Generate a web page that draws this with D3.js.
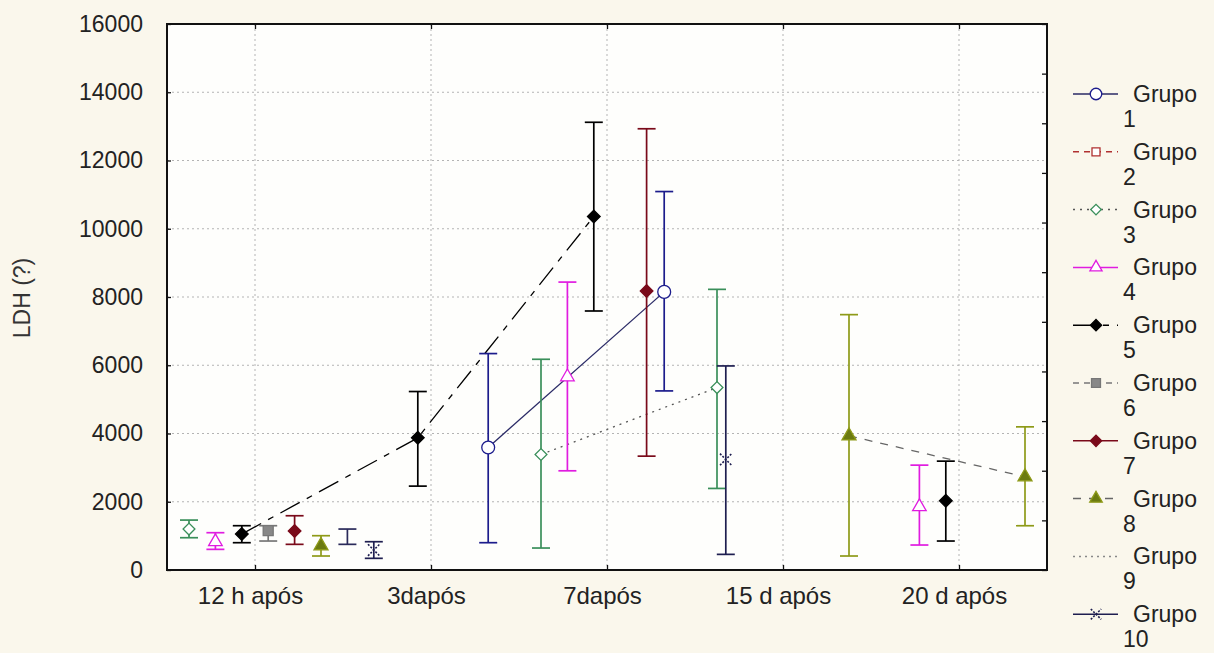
<!DOCTYPE html>
<html>
<head>
<meta charset="utf-8">
<script src="https://cdn.jsdelivr.net/npm/d3@7"></script>
<style>
  body { margin: 0; background: #faf7ec; }
  svg { display: block; font-family: "Liberation Sans", Arial, sans-serif; }
</style>
</head>
<body>
<div id="chart"></div>
<script>
// categories on the x axis
var categories = ["12 h após", "3dapós", "7dapós", "15 d após", "20 d após"];
var groups = ["Grupo 1", "Grupo 2", "Grupo 3", "Grupo 4", "Grupo 5", "Grupo 6", "Grupo 7", "Grupo 8", "Grupo 9", "Grupo 10"];
var legendNumbers = ["1", "2", "3", "4", "5", "6", "7", "8", "9", "10"];
var yTicks = [0, 2000, 4000, 6000, 8000, 10000, 12000, 14000, 16000];

// means per group (null = no value)
var means = [
    [null, null, 3590, 8150, null],
    [null, null, null, null, null],
    [1200, null, 3385, 5346, null],
    [829, null, 5660, null, 1853],
    [1053, 3872, 10360, null, 2029],
    [1151, null, null, null, null],
    [1141, null, 8175, null, null],
    [712, null, null, 3931, 2731],
    [976, null, null, null, null],
    [585, null, 3239, null, null]
];
var lower = [
    [null, null, 800, 5248, null],
    [null, null, null, null, null],
    [946, null, 644, 2390, null],
    [605, null, 2907, null, 732],
    [800, 2458, 7590, null, 849],
    [849, null, null, null, null],
    [752, null, 3336, null, null],
    [410, null, null, 410, 1297],
    [752, null, null, null, null],
    [342, null, 458, null, null]
];
var upper = [
    [null, null, 6342, 11090, null],
    [null, null, null, null, null],
    [1463, null, 6175, 8224, null],
    [1093, null, 8437, null, 3073],
    [1298, 5230, 13120, null, 3190],
    [1298, null, null, null, null],
    [1590, null, 12930, null, null],
    [1005, null, null, 7483, 4195],
    [1200, null, null, null, null],
    [829, null, 5980, null, null]
];

// styles per group ("rot" turns a square into a diamond)
var styles = [
    {color: "#1c1c8c", line: "#2a2a66", dash: null, symbol: d3.symbolCircle, size: 130, fill: "#fff"},
    {color: "#b03030", line: "#b03030", dash: "6,5", symbol: d3.symbolSquare, size: 80, fill: "#fff"},
    {color: "#3a8f5a", line: "#555", dash: "2,5", symbol: d3.symbolSquare, rot: 45, size: 70, fill: "#fff"},
    {color: "#e01ce0", line: "#e01ce0", dash: null, symbol: d3.symbolTriangle, size: 80, fill: "#fff"},
    {color: "#000", line: "#000", dash: "22,8,6,8", symbol: d3.symbolSquare, rot: 45, size: 80, fill: "#000"},
    {color: "#777", line: "#777", dash: "6,5", symbol: d3.symbolSquare, size: 100, fill: "#888"},
    {color: "#7a0a1a", line: "#7a0a1a", dash: null, symbol: d3.symbolSquare, rot: 45, size: 80, fill: "#7a0a1a"},
    {color: "#8e9a18", line: "#666", dash: "8,8", symbol: d3.symbolTriangle, size: 85, fill: "#6b7a10"},
    {color: "#2a2a5a", line: "#888", dash: "2,4", symbol: null, size: 0, fill: "none"},
    {color: "#1e1e50", line: "#1e1e50", dash: null, symbol: d3.symbolX, size: 90, fill: "none"}
];

var width = 1214, height = 653;
var plot = {left: 167, right: 1047, top: 24, bottom: 570};

var svg = d3.select("#chart").append("svg")
    .attr("width", width)
    .attr("height", height);

svg.append("rect").attr("width", width).attr("height", height).attr("fill", "#faf7ec");
svg.append("rect")
    .attr("x", plot.left).attr("y", plot.top)
    .attr("width", plot.right - plot.left).attr("height", plot.bottom - plot.top)
    .attr("fill", "#fefefc");

var x = d3.scalePoint().domain(categories).range([plot.left, plot.right]).padding(0.5);
var offset = d3.scaleBand().domain(groups).range([-132, 132]);
var y = d3.scaleLinear().domain([0, 16000]).range([plot.bottom, plot.top]);
var px = (i, g) => x(categories[i]) + offset(groups[g]) + offset.bandwidth() / 2;

svg.append("clipPath").attr("id", "clip")
    .append("rect")
    .attr("x", plot.left).attr("y", plot.top)
    .attr("width", plot.right - plot.left).attr("height", plot.bottom - plot.top);

// grid
var grid = svg.append("g").attr("stroke", "#b4b4b4").attr("stroke-dasharray", "2,3").attr("stroke-width", 1);
grid.selectAll(".h").data(yTicks.slice(1, -1)).enter().append("line")
    .attr("x1", plot.left).attr("x2", plot.right)
    .attr("y1", d => y(d)).attr("y2", d => y(d));
grid.selectAll(".v").data(categories).enter().append("line")
    .attr("x1", d => x(d)).attr("x2", d => x(d))
    .attr("y1", plot.top).attr("y2", plot.bottom);

var marks = svg.append("g").attr("clip-path", "url(#clip)");

function marker(sel, s, g, scale) {
    return sel.append("path")
        .attr("d", d3.symbol().type(s.symbol).size(s.size * scale))
        .attr("fill", s.fill)
        .attr("stroke", s.color)
        .attr("stroke-width", g == 9 ? 1.6 : 1.3)
        .attr("stroke-dasharray", g == 9 ? "2,1.5" : null);
}

// connecting lines
var line = d3.line()
    .defined(d => d.v != null)
    .x(d => d.x).y(d => y(d.v));
means.forEach(function(row, g) {
    var pts = row.map((v, i) => ({x: px(i, g), v: v}));
    marks.append("path")
        .datum(pts)
        .attr("fill", "none")
        .attr("stroke", styles[g].line)
        .attr("stroke-width", 1.3)
        .attr("stroke-dasharray", styles[g].dash)
        .attr("d", line);
});

// error bars and markers
means.forEach(function(row, g) {
    var s = styles[g];
    row.forEach(function(v, i) {
        if (v == null) return;
        var cx = px(i, g);
        var eb = marks.append("g").attr("stroke", s.color).attr("stroke-width", 1.7).attr("fill", "none");
        eb.append("line").attr("x1", cx).attr("x2", cx).attr("y1", y(lower[g][i])).attr("y2", y(upper[g][i]));
        eb.append("line").attr("x1", cx - 9).attr("x2", cx + 9).attr("y1", y(lower[g][i])).attr("y2", y(lower[g][i]));
        eb.append("line").attr("x1", cx - 9).attr("x2", cx + 9).attr("y1", y(upper[g][i])).attr("y2", y(upper[g][i]));
        if (s.symbol) {
            marker(marks, s, g, 1)
                .attr("transform", `translate(${cx},${y(v)}) rotate(${s.rot || 0})`);
        }
    });
});

// axes
var yAxis = svg.append("g")
    .attr("transform", `translate(${plot.left},0)`)
    .call(d3.axisLeft(y).tickValues(yTicks).tickSize(-4).tickPadding(24).tickFormat(d3.format("d")));
yAxis.select(".domain").remove();
yAxis.selectAll("text").attr("font-size", "23px").attr("fill", "#222").attr("font-family", "Liberation Sans, Arial, sans-serif");

var xAxis = svg.append("g")
    .attr("transform", `translate(0,${plot.bottom})`)
    .call(d3.axisBottom(x).tickSize(-5).tickPadding(17));
xAxis.select(".domain").remove();
xAxis.selectAll("text").attr("font-size", "24px").attr("dx", -5).attr("fill", "#222").attr("font-family", "Liberation Sans, Arial, sans-serif");

var topAxis = svg.append("g")
    .attr("transform", `translate(0,${plot.top})`)
    .call(d3.axisTop(x).tickSize(-5).tickFormat(""));
topAxis.select(".domain").remove();

var yRight = d3.scaleLinear().domain([0, 11]).range([plot.bottom, plot.top]);
var rightAxis = svg.append("g")
    .attr("transform", `translate(${plot.right},0)`)
    .call(d3.axisRight(yRight).ticks(11).tickSize(-5).tickFormat(""));
rightAxis.select(".domain").remove();

svg.selectAll(".tick line").attr("stroke", "#111").attr("stroke-width", 1.3);

// frame
svg.append("rect")
    .attr("x", plot.left).attr("y", plot.top)
    .attr("width", plot.right - plot.left).attr("height", plot.bottom - plot.top)
    .attr("fill", "none").attr("stroke", "#111").attr("stroke-width", 2);

// y label
svg.append("text")
    .attr("transform", "translate(30,298) rotate(-90)")
    .attr("text-anchor", "middle")
    .attr("font-size", "23px")
    .attr("fill", "#333")
    .text("LDH (?)");

// legend
var legend = svg.append("g").attr("transform", "translate(0,94)");
groups.forEach(function(name, g) {
    var s = styles[g];
    var row = legend.append("g").attr("transform", `translate(0,${g * 57.8})`);
    row.append("line")
        .attr("x1", 1073).attr("x2", 1118).attr("y1", 0).attr("y2", 0)
        .attr("stroke", s.line)
        .attr("stroke-width", 1.5)
        .attr("stroke-dasharray", s.dash);
    if (s.symbol) {
        marker(row, s, g, 0.8)
            .attr("transform", `translate(1096,0) rotate(${s.rot || 0})`);
    }
    row.append("text")
        .attr("x", 1133).attr("y", 8)
        .attr("font-size", "23px").attr("fill", "#222")
        .text(name.split(" ")[0]);
    row.append("text")
        .attr("x", 1123).attr("y", 33)
        .attr("font-size", "23px").attr("fill", "#222")
        .text(legendNumbers[g]);
});
</script>
</body>
</html>
